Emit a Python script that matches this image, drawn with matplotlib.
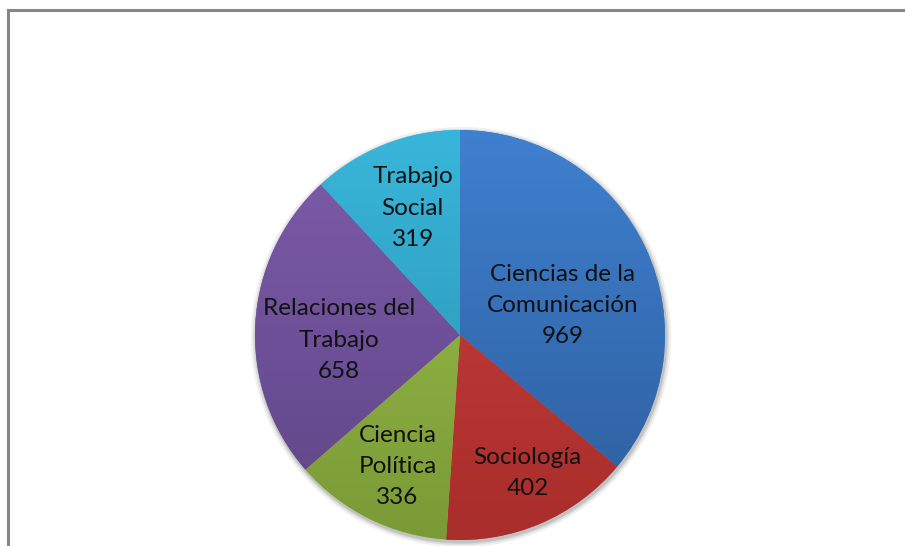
import matplotlib.pyplot as plt
import numpy as np
from matplotlib.colors import LinearSegmentedColormap
from matplotlib.patches import Circle

labels = ["Ciencias de la\nComunicación", "Sociología", "Ciencia\nPolítica",
          "Relaciones del\nTrabajo", "Trabajo\nSocial"]
values = [969, 402, 336, 658, 319]
top_colors = ["#3f80cf", "#c8423d", "#9cc24c", "#7e5cab", "#38b6da"]
bottom_colors = ["#2d5d9c", "#a92d2b", "#7a9a36", "#5e4586", "#2a8fae"]
label_dist = [0.52, 0.75, 0.71, 0.59, 0.66]
label_turn = [-9, 3, 1, 5.5, -1]

plt.rcParams['font.family'] = ['Lato', 'DejaVu Sans']

fig = plt.figure(figsize=(9.05, 5.46), dpi=100)
fig.patch.set_facecolor("white")

# chart frame (only left and top edges are visible)
fig.add_artist(plt.Line2D([7.5 / 905, 7.5 / 905], [0, 1 - 10 / 546],
                          color="#868686", lw=2.2))
fig.add_artist(plt.Line2D([7.5 / 905, 1], [1 - 10 / 546, 1 - 10 / 546],
                          color="#868686", lw=2.2))

# pie center ~ (460, 335) px, radius ~205 px
R = 205
pad = 1.05
H = R * pad
ax = fig.add_axes([(460 - H) / 905, (546 - 335 - H) / 546, 2 * H / 905, 2 * H / 546])
ax.axis("off")

# soft shadow
for k, a in zip([1.025, 1.015, 1.007], [0.06, 0.08, 0.12]):
    ax.add_patch(Circle((0.005, -0.01), k, color="black", alpha=a, lw=0, zorder=0))

wedges, _ = ax.pie(values, startangle=90, counterclock=False, radius=1,
                   colors=top_colors, wedgeprops=dict(lw=0), frame=False)
ax.set_xlim(-pad, pad)
ax.set_ylim(-pad, pad)

grad = np.linspace(0, 1, 256).reshape(-1, 1)
for w, c1, c2 in zip(wedges, top_colors, bottom_colors):
    cmap = LinearSegmentedColormap.from_list("g", [c2, c1])
    im = ax.imshow(grad, cmap=cmap, extent=[-1, 1, -1, 1], origin="lower",
                   aspect="auto", zorder=2, vmin=0, vmax=1)
    im.set_clip_path(w)

total = sum(values)
start = 90.0
for lab, v, d, t in zip(labels, values, label_dist, label_turn):
    span = 360.0 * v / total
    mid = np.deg2rad(start - span / 2 + t)
    start -= span
    ax.text(d * np.cos(mid), d * np.sin(mid), f"{lab}\n{v}", ha="center",
            va="center", fontsize=17.5, color="#111111", linespacing=1.6,
            zorder=5)

fig.savefig("out.png", dpi=100)
